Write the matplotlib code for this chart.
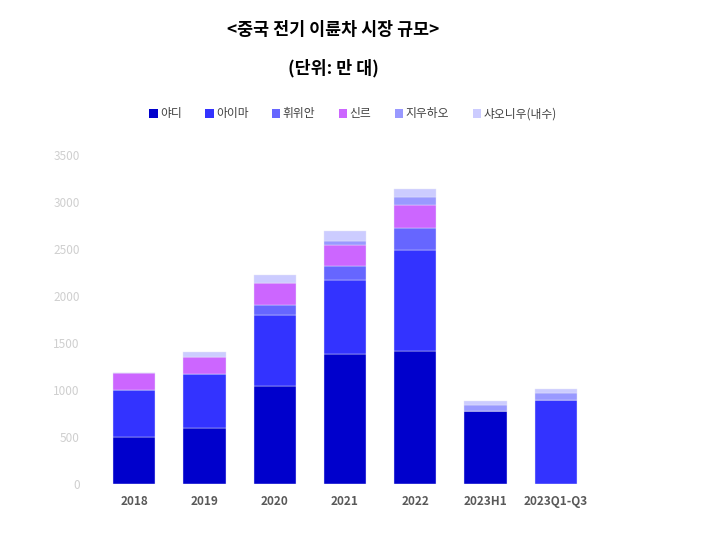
import matplotlib
matplotlib.use("Agg")
import matplotlib.pyplot as plt
import numpy as np
from matplotlib.patches import Patch

plt.rcParams['font.family'] = ['Noto Sans CJK KR', 'DejaVu Sans']

categories = ["2018", "2019", "2020", "2021", "2022", "2023H1", "2023Q1-Q3"]
series_names = ["야디", "아이마", "휘위안", "신르", "지우하오", "샤오니우(내수)"]
yadea   = [495, 600, 1045, 1380, 1410, 775, 0]
aima    = [505, 565, 750, 790, 1080, 0, 895]
yuwei   = [0, 0, 105, 145, 235, 0, 0]
sinre   = [185, 185, 235, 230, 238, 0, 0]
jiuhao  = [0, 0, 0, 40, 90, 65, 72]
xiaoniu = [0, 50, 85, 105, 90, 48, 46]
colors = ["#0000CC", "#3333FF", "#6666FF", "#CC66FF", "#9999FF", "#CCCCFF"]
yticks = [0, 500, 1000, 1500, 2000, 2500, 3000, 3500]

fig = plt.figure(figsize=(7.16, 5.38), dpi=100)
ax = fig.add_axes([99/716, 1-484/538, (591-99)/716, (484-155)/538])

x = np.arange(len(categories))
bottom = np.zeros(len(categories))
all_series = [yadea, aima, yuwei, sinre, jiuhao, xiaoniu]
for vals, c, name in zip(all_series, colors, series_names):
    v = np.array(vals, dtype=float)
    ax.bar(x, v, 0.6, bottom=bottom, color=c, label=name,
           edgecolor="#E6E6FA", linewidth=0.3)
    bottom += v

ax.set_xlim(-0.5, len(categories) - 0.5)
ax.set_ylim(0, 3500)
ax.set_yticks(yticks)
ax.set_yticklabels([str(t) for t in yticks], color="#CFCFCF", fontsize=8.5)
ax.set_xticks(x)
ax.set_xticklabels(categories, color="#595959", fontsize=8.5, fontweight="bold")
ax.tick_params(axis="both", length=0)
ax.tick_params(axis="y", pad=14)
ax.tick_params(axis="x", pad=8)
for s in ax.spines.values():
    s.set_visible(False)

fig.text(333/716, 1-30/538, "<중국 전기 이륜차 시장 규모>", ha="center", va="center",
         fontsize=12.5, fontweight="bold", color="black")
fig.text(333/716, 1-68/538, "(단위: 만 대)", ha="center", va="center",
         fontsize=12.5, fontweight="bold", color="black")

handles = [Patch(facecolor=c) for c in colors]
leg = fig.legend(handles, series_names, loc="center", bbox_to_anchor=(353/716, 1-114/538),
                 ncol=6, frameon=False, fontsize=8.5, handlelength=0.7, handleheight=0.7,
                 handletextpad=0.2, columnspacing=2.0)
for t in leg.get_texts():
    t.set_color("#404040")

fig.savefig("out.png", dpi=100)
